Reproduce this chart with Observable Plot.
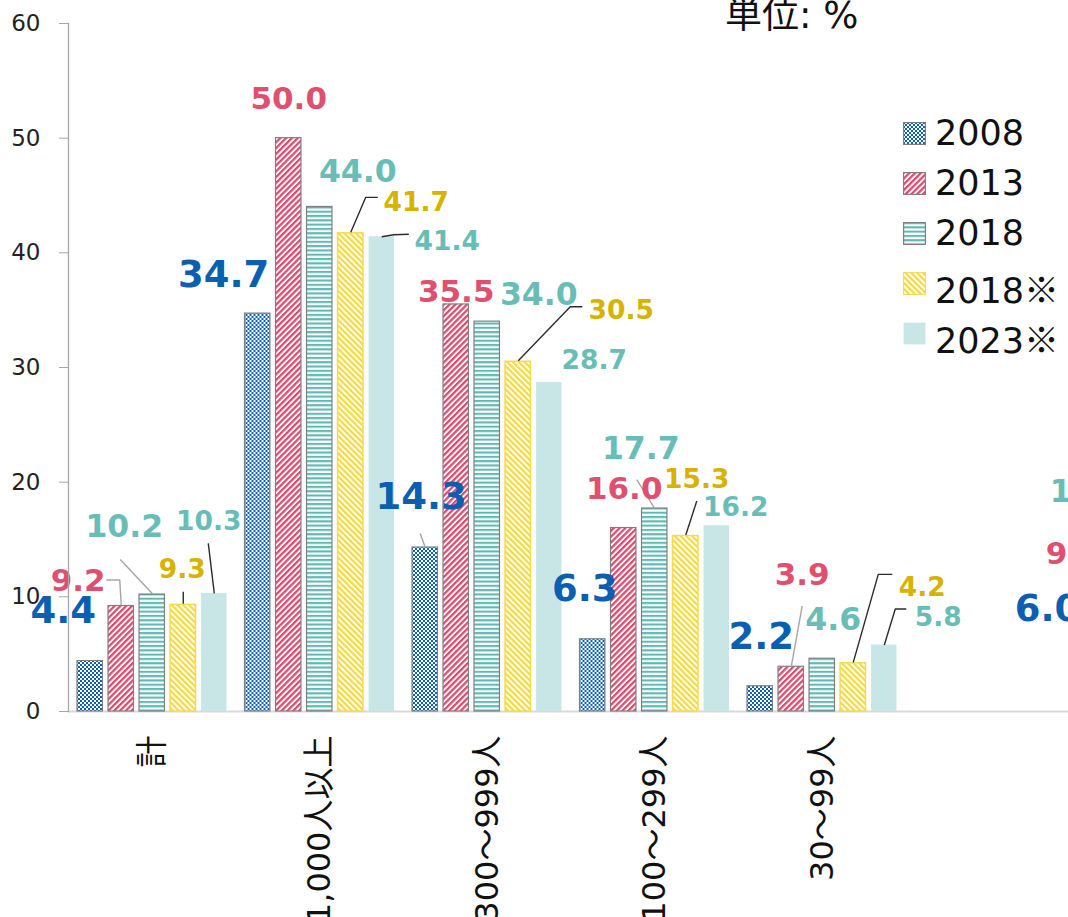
<!DOCTYPE html>
<html><head><meta charset="utf-8">
<script src="https://cdn.jsdelivr.net/npm/d3@7"></script>
<script src="https://cdn.jsdelivr.net/npm/@observablehq/plot@0.6"></script>
<style>
html,body{margin:0;padding:0;background:#fff;overflow:hidden;}
#wrap{position:relative;width:1068px;height:917px;overflow:hidden;}
#unit{position:absolute;left:725px;top:-4px;font-size:37px;line-height:1.1;font-family:"DejaVu Sans","Noto Sans CJK JP",sans-serif;color:#111;white-space:nowrap;}
#legend{position:absolute;left:903px;top:108px;font-size:35px;font-family:"DejaVu Sans","Noto Sans CJK JP",sans-serif;color:#111;}
.row{position:relative;height:50px;display:flex;align-items:center;white-space:nowrap;}
.row svg{flex:none;margin-right:9px;}
.row span{position:relative;line-height:1;}
.row span .mark{font-family:"Noto Sans CJK JP",sans-serif;}
</style></head><body><div id="wrap"></div>
<script>
// ---- data ----
const categories = ["計", "1,000人以上", "300～999人", "100～299人", "30～99人", ""];
const series = ["2008", "2013", "2018", "2018※", "2023※"];
const values2008  = [4.4, 34.7, 14.3, 6.3, 2.2, 6.0];
const values2013  = [9.2, 50.0, 35.5, 16.0, 3.9, 9.6];
const values2018  = [10.2, 44.0, 34.0, 17.7, 4.6, 11.8];
const values2018s = [9.3, 41.7, 30.5, 15.3, 4.2, null];
const values2023s = [10.3, 41.4, 28.7, 16.2, 5.8, null];
const labelOnlyCategories = [""];          // group cut off at the right edge: labels only
const yTicks = [0, 10, 20, 30, 40, 50, 60];
const unitText = "単位: %";

// ---- layout / style (kept apart from the data) ----
const seriesValues = [values2008, values2013, values2018, values2018s, values2023s];
const labelColors = ["#0b5fb0", "#df4f70", "#69bdb7", "#d6b300", "#69bdb7"];
const labelSizes = [37, 31, 31.5, 26.5, 26.5];
const barStroke = ["#7f7f7f", "#7f7f7f", "#7f7f7f", "#f6da4f", "none"];
const barStrokeWidth = [1.2, 1.2, 1.2, 1.5, 0];
const leaderColors = ["#a5a5a5", "#a5a5a5", "#a5a5a5", "#2b2b2b", "#2b2b2b"];
// label offsets [dx, dy] in px from the top centre of each bar, by series then category
const labelOffsets = [
  [[-27, -50], [-34, -38], [-4, -50], [-8, -50], [1, -49], [87, -34]],
  [[-43, -25], [0, -39.5], [0, -12.5], [0.5, -39], [11, -91.5], [87, -47]],
  [[-28, -67.5], [38, -35], [51.5, -26.5], [-14, -60], [11, -38.5], [60, -84]],
  [[-1, -35], [65.5, -31], [103, -51.5], [11, -56.5], [69, -75.5], null],
  [[-5.5, -72], [65.5, 5], [45, -21.5], [19, -18], [54, -27], null]
];
const startAnchored = [""]; // labels of the cut-off group are anchored at their start
// leader lines: series index, category index, polyline points in px relative to the bar top
const leaders = [
  {s: 1, c: 0, pts: [[0, -1], [-1.5, -26], [-15, -26]]},
  {s: 2, c: 0, pts: [[0, -1], [-32, -35]]},
  {s: 3, c: 0, pts: [[0, -1], [0, -13]]},
  {s: 4, c: 0, pts: [[0, 0], [-6, -50]]},
  {s: 3, c: 1, pts: [[0, -1], [15, -36], [27, -36]]},
  {s: 4, c: 1, pts: [[0, 0], [12, -2], [27, -2.5]]},
  {s: 0, c: 2, pts: [[0, 0], [-5, -14]]},
  {s: 3, c: 2, pts: [[0, -1], [52, -55], [64, -55]]},
  {s: 2, c: 3, pts: [[0, 0], [-18, -29]]},
  {s: 3, c: 3, pts: [[0, -1], [11, -35]]},
  {s: 1, c: 4, pts: [[0, 0], [11, -61]]},
  {s: 3, c: 4, pts: [[0, -1], [25, -89], [39, -89]]},
  {s: 4, c: 4, pts: [[0, 0], [11, -36], [22, -36]]}
];

// ---- table ----
const rows = [];
categories.forEach((c, ci) => series.forEach((s, si) => {
  const v = seriesValues[si][ci];
  if (v != null) rows.push({category: c, series: s, value: v, ci, si});
}));
const findRow = (ci, si) => rows.find(d => d.ci === ci && d.si === si);

const marks = [];
marks.push(Plot.ruleY([0], {stroke: "#d9d9d9", strokeWidth: 2}));
series.forEach((s, si) => {
  marks.push(Plot.barY(rows.filter(d => d.si === si && !labelOnlyCategories.includes(d.category)), {
    fx: "category", x: "series", y: "value",
    fill: `url(#pat${si})`, stroke: barStroke[si], strokeWidth: barStrokeWidth[si]
  }));
});
leaders.forEach(L => {
  const r = findRow(L.c, L.s);
  const pts = L.pts;
  marks.push(Plot.vector([r], {
    fx: "category", x: "series", y: "value", length: 1, rotate: 0, anchor: "start",
    shape: {draw(ctx) { ctx.moveTo(pts[0][0], pts[0][1]); for (let i = 1; i < pts.length; i++) ctx.lineTo(pts[i][0], pts[i][1]); }},
    stroke: leaderColors[L.s], strokeWidth: 1.4, strokeLinecap: "butt", fill: "none"
  }));
});
rows.forEach(r => {
  const off = labelOffsets[r.si][r.ci];
  if (!off) return;
  marks.push(Plot.text([r], {
    fx: "category", x: "series", y: "value", text: d => d.value.toFixed(1),
    dx: off[0], dy: off[1], fill: labelColors[r.si], fontSize: labelSizes[r.si],
    fontWeight: "bold", fontFamily: "DejaVu Sans, Noto Sans CJK JP",
    textAnchor: startAnchored.includes(r.category) ? "start" : "middle"
  }));
});
marks.push(Plot.frame({anchor: "left", facetAnchor: "left", stroke: "#a6a6a6", strokeWidth: 1.3}));
marks.push(Plot.axisY({ticks: yTicks, tickSize: 9, tickPadding: 19, fontSize: 23, stroke: "#a6a6a6", fill: "#222", label: null}));
marks.push(Plot.axisFx({anchor: "bottom", tickRotate: -90, tickSize: 0, tickPadding: 24, fontSize: 32, fill: "#111", label: null}));

const chart = Plot.plot({
  width: 1068, height: 917,
  marginLeft: 68, marginRight: -5, marginTop: 23, marginBottom: 206,
  style: {fontFamily: "DejaVu Sans, Noto Sans CJK JP", fontSize: "23px", background: "white", color: "#222"},
  fx: {domain: categories, paddingInner: 0, paddingOuter: 0, round: false, label: null},
  x: {domain: series, paddingInner: 0.18, paddingOuter: 0.29, round: false, axis: null},
  y: {domain: [0, 60], label: null},
  marks
});

// patterns used by the bar fills and legend swatches
const defs = d3.select(chart).insert("defs", ":first-child");
function pat(id, w, h, tr) {
  const p = defs.append("pattern").attr("id", id).attr("patternUnits", "userSpaceOnUse").attr("width", w).attr("height", h);
  if (tr) p.attr("patternTransform", tr);
  p.append("rect").attr("width", w).attr("height", h).attr("fill", "#fff");
  return p;
}
let p = pat("pat0", 4, 4);
p.append("rect").attr("width", 2).attr("height", 2).attr("fill", "#0b5fb4");
p.append("rect").attr("x", 2).attr("y", 2).attr("width", 2).attr("height", 2).attr("fill", "#0b5fb4");
p = pat("pat1", 4.1, 8, "rotate(45)");
p.append("rect").attr("width", 2.2).attr("height", 8).attr("fill", "#e2466b");
p = pat("pat2", 8, 4.3);
p.append("rect").attr("width", 8).attr("height", 2.1).attr("fill", "#5fb9b3");
p = pat("pat3", 4.1, 8, "rotate(-45)");
p.append("rect").attr("width", 2.2).attr("height", 8).attr("fill", "#f8d93c");
p = defs.append("pattern").attr("id", "pat4").attr("patternUnits", "userSpaceOnUse").attr("width", 4).attr("height", 4);
p.append("rect").attr("width", 4).attr("height", 4).attr("fill", "#c8e6e6");

const wrap = document.getElementById("wrap");
wrap.appendChild(chart);

const unit = document.createElement("div");
unit.id = "unit"; unit.textContent = unitText;
wrap.appendChild(unit);

const legend = document.createElement("div");
legend.id = "legend";
series.forEach((s, si) => {
  const row = document.createElement("div");
  row.className = "row";
  const sw = d3.create("svg").attr("width", 23).attr("height", 23);
  sw.append("rect").attr("x", 0.6).attr("y", 0.6).attr("width", 21.8).attr("height", 21.8)
    .attr("fill", `url(#pat${si})`).attr("stroke", barStroke[si]).attr("stroke-width", si < 3 ? 1.2 : 1);
  row.appendChild(sw.node());
  const t = document.createElement("span");
  const base = s.replace("※", "");
  t.appendChild(document.createTextNode(base));
  if (s.includes("※")) {
    const m = document.createElement("span");
    m.className = "mark"; m.textContent = "※";
    t.appendChild(m);
    t.style.top = "6px";
  }
  row.appendChild(t);
  legend.appendChild(row);
});
wrap.appendChild(legend);
</script></body></html>
